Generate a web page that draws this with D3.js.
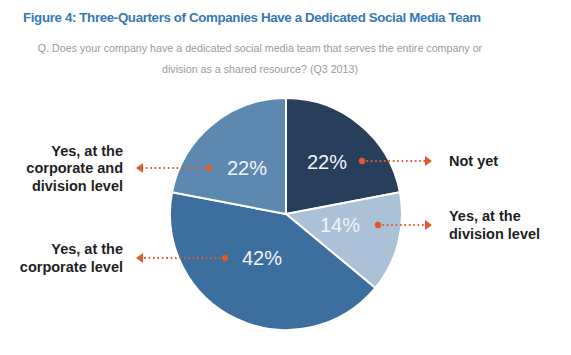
<!DOCTYPE html>
<html><head><meta charset="utf-8">
<script src="https://cdn.jsdelivr.net/npm/d3@7"></script>
<style>body{margin:0;background:#fff}svg{display:block}</style>
</head><body>
<svg id="c" width="571" height="355"></svg>
<script>
const categories = ["Not yet", "Yes, at the division level", "Yes, at the corporate level", "Yes, at the corporate and division level"];
const values = [22, 14, 42, 22];
const labelLines = [["Not yet"], ["Yes, at the", "division level"], ["Yes, at the", "corporate level"], ["Yes, at the", "corporate and", "division level"]];
const colors = ["#283f5b", "#abc1d7", "#3c6e9e", "#5d89b1"];
const title = "Figure 4: Three-Quarters of Companies Have a Dedicated Social Media Team";
const subtitle = ["Q. Does your company have a dedicated social media team that serves the entire company or", "division as a shared resource? (Q3 2013)"];

const svg = d3.select("#c");
const cx = 286, cy = 214, R = 116;
const orange = "#e2592b";

svg.append("text").attr("x", 23).attr("y", 22).text(title)
  .attr("font-family", "Liberation Sans, Arial, sans-serif").attr("font-weight", "bold")
  .attr("font-size", 13.3).attr("fill", "#3478b6").attr("letter-spacing", -0.35);
svg.selectAll("text.sub").data(subtitle).join("text").attr("class", "sub")
  .attr("x", 260).attr("y", (d, i) => 52 + i * 21).attr("text-anchor", "middle").text(d => d)
  .attr("font-family", "Liberation Sans, Arial, sans-serif").attr("font-size", 10.7).attr("fill", "#9a9a9a");

const pie = d3.pie().sort(null).value(d => d)(values);
const arc = d3.arc().innerRadius(0).outerRadius(R);
const g = svg.append("g").attr("transform", `translate(${cx},${cy})`);
g.selectAll("path").data(pie).join("path").attr("d", arc)
  .attr("fill", (d, i) => colors[i]).attr("stroke", "#fff").attr("stroke-width", 2);

// percent labels & dot positions (relative to center)
const pctPos = [[41, -52], [54, 11], [-24, 44], [-39, -46]];
const dotPos = [[76, -53], [92, 11], [-61, 44], [-77, -46]];
const side = [1, 1, -1, -1];
g.selectAll("text.pct").data(pie).join("text").attr("class", "pct")
  .attr("x", (d, i) => pctPos[i][0]).attr("y", (d, i) => pctPos[i][1]).attr("dy", "0.36em")
  .attr("text-anchor", "middle").text(d => d.data + "%")
  .attr("font-family", "Liberation Sans, Arial, sans-serif").attr("font-size", 20).attr("fill", "#f2f5f9");

const arrowX = [432, 432, 136, 136];
pie.forEach((d, i) => {
  const dx = cx + dotPos[i][0], dy = cy + dotPos[i][1];
  const s = side[i];
  const ax = arrowX[i];
  svg.append("line").attr("x1", dx).attr("y1", dy).attr("x2", ax - s * 7).attr("y2", dy)
    .attr("stroke", orange).attr("stroke-width", 1.8).attr("stroke-dasharray", "1.6 2.8");
  svg.append("circle").attr("cx", dx).attr("cy", dy).attr("r", 3.2).attr("fill", orange);
  svg.append("path").attr("d", `M${ax},${dy} L${ax - s * 7},${dy - 5} L${ax - s * 7},${dy + 5} Z`).attr("fill", orange);
  const lines = labelLines[i];
  const lx = s > 0 ? 449 : 123;
  const lh = 17.5;
  const y0 = dy - (lines.length - 1) * lh / 2;
  const t = svg.append("text").attr("text-anchor", s > 0 ? "start" : "end")
    .attr("font-family", "Liberation Sans, Arial, sans-serif").attr("font-weight", "bold")
    .attr("font-size", 14.5).attr("fill", "#1e1e1e");
  lines.forEach((l, j) => t.append("tspan").attr("x", lx).attr("y", y0 + j * lh).attr("dy", "0.36em").text(l));
});
</script>
</body></html>
